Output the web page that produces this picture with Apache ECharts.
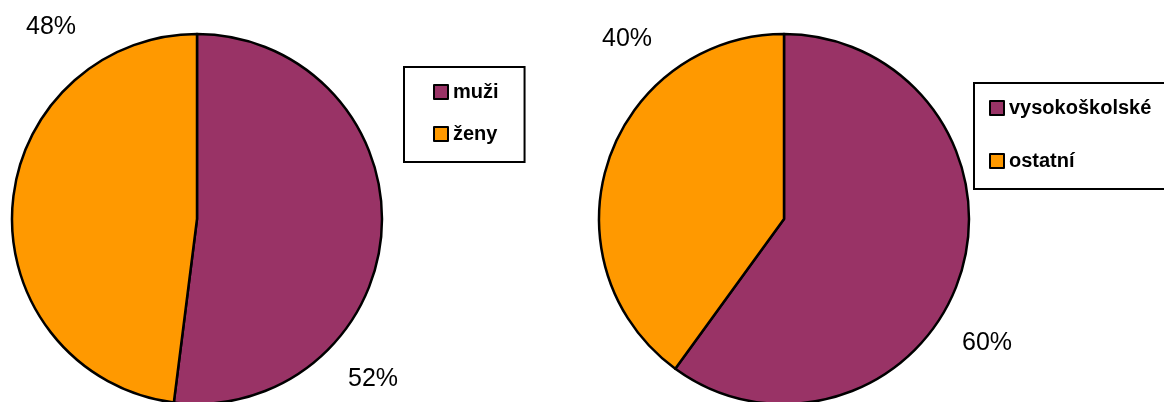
<!DOCTYPE html>
<html>
<head>
<meta charset="utf-8">
<script src="https://cdn.jsdelivr.net/npm/echarts@6/dist/echarts.min.js"></script>
<style>
  html, body { margin: 0; padding: 0; background: #fff; }
  #chart { width: 1164px; height: 402px; }
</style>
</head>
<body>
<div id="chart"></div>
<script>
// data
const genderNames = ['muži', 'ženy']
const genderValues = [52, 48]
const eduNames = ['vysokoškolské', 'ostatní']
const eduValues = [60, 40]

const colors = ['#993366', '#FF9900']

// hand placed label spots (as in the original sheet)
const labelSpots = [
  [[373, 379], [51, 27]],
  [[987, 343], [627, 39]]
]

const chart = echarts.init(document.getElementById('chart'))

function pieSeries(names, values, center, idx) {
  return {
    type: 'pie',
    center: center,
    radius: 185,
    startAngle: 90,
    clockwise: true,
    avoidLabelOverlap: false,
    animation: false,
    itemStyle: { borderColor: '#000', borderWidth: 2.5 },
    label: {
      show: true,
      position: 'outside',
      formatter: '{c}%',
      fontFamily: 'Liberation Sans, Arial, sans-serif',
      fontSize: 25,
      color: '#000'
    },
    labelLine: { show: false },
    labelLayout: function (p) {
      const s = labelSpots[idx][p.dataIndex]
      return { x: s[0], y: s[1], align: 'center', verticalAlign: 'middle' }
    },
    emphasis: { disabled: true },
    data: names.map((n, i) => ({ name: n, value: values[i], itemStyle: { color: colors[i] } }))
  }
}

function legendBox(names, left, top, gap, padding) {
  return {
    data: names,
    orient: 'vertical',
    left: left,
    top: top,
    padding: padding,
    itemGap: gap,
    itemWidth: 14,
    itemHeight: 14,
    icon: 'rect',
    borderColor: '#000',
    borderWidth: 2,
    backgroundColor: '#fff',
    selectedMode: false,
    itemStyle: { borderColor: '#000', borderWidth: 2 },
    textStyle: {
      fontFamily: 'Liberation Sans, Arial, sans-serif',
      fontSize: 20,
      fontWeight: 'bold',
      color: '#000'
    }
  }
}

chart.setOption({
  backgroundColor: '#fff',
  legend: [
    legendBox(genderNames, 404, 67, 22, [15, 26, 18, 29]),
    legendBox(eduNames, 974, 83, 33, [15, 20, 18, 15])
  ],
  series: [
    pieSeries(genderNames, genderValues, [197, 219], 0),
    pieSeries(eduNames, eduValues, [784, 219], 1)
  ]
})
</script>
</body>
</html>
